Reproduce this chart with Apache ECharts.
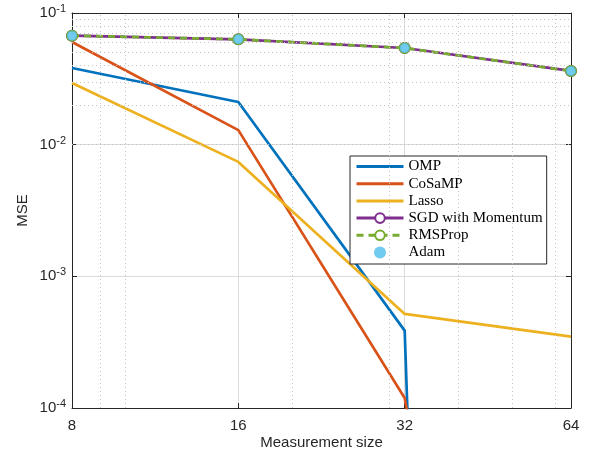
<!DOCTYPE html>
<html>
<head>
<meta charset="utf-8">
<script src="https://cdn.jsdelivr.net/npm/echarts@6/dist/echarts.min.js"></script>
<style>
  html, body { margin: 0; padding: 0; background: #fff; }
  #chart { width: 591px; height: 460px; }
</style>
</head>
<body>
<div id="chart"></div>
<script>
// measurement sizes (x, log base 2)
const sizes = [8, 16, 32, 64];

// MSE per method
const omp = [0.0382, 0.0211, 3.87e-4, 1e-40];
const cosamp = [0.0602, 0.0129, 1.19e-4, 1e-11];
const lasso = [0.0294, 0.0074, 5.18e-4, 3.48e-4];
const sgd = [0.0673, 0.0631, 0.0542, 0.0363];
const rmsprop = [0.0673, 0.0631, 0.0542, 0.0363];
const adam = [0.0673, 0.0631, 0.0542, 0.0363];

// minor grid positions (matlab style 2..9 x 10^n)
const xMinor = [9, 10, 20, 30, 40, 50, 60];
const yMinor = [];
[1e-4, 1e-3, 1e-2].forEach(d => {
  for (let k = 2; k <= 9; k++) yMinor.push(k * d);
});

const axisCol = '#262626';
const pairs = arr => sizes.map((x, i) => [x, arr[i]]);

let chart = echarts.init(document.getElementById('chart'));

function lineSeries(name, arr, color, extra) {
  return Object.assign({
    name: name,
    type: 'line',
    data: pairs(arr),
    symbol: 'none',
    clip: true,
    lineStyle: { color: color, width: 2.7 },
    itemStyle: { color: color },
    z: 3
  }, extra || {});
}

// plain line icon in legend (hide the default symbol)
const noMark = { color: 'rgba(0,0,0,0)', borderWidth: 0, opacity: 0 };

let option = {
  animation: false,
  grid: { left: 72, right: 20, top: 13, bottom: 52 },
  legend: {
    orient: 'vertical',
    left: 350,
    top: 156,
    data: [
      { name: 'OMP', itemStyle: noMark },
      { name: 'CoSaMP', itemStyle: noMark },
      { name: 'Lasso', itemStyle: noMark },
      'SGD with Momentum',
      'RMSProp',
      'Adam'
    ],
    itemWidth: 47,
    itemHeight: 12,
    itemGap: 2.2,
    padding: [3, 4, 4, 5],
    lineStyle: { width: 3 },
    backgroundColor: '#fff',
    borderColor: axisCol,
    borderWidth: 1,
    textStyle: { fontFamily: 'Liberation Serif', fontSize: 15, lineHeight: 15, color: '#000' }
  },
  xAxis: [
    {
      type: 'log',
      logBase: 2,
      min: 8,
      max: 64,
      name: 'Measurement size',
      nameLocation: 'middle',
      nameGap: 27,
      nameMoveOverlap: false,
      nameTextStyle: { fontFamily: 'Liberation Sans', fontSize: 15, color: axisCol },
      axisLine: { show: true, lineStyle: { color: axisCol, width: 1 } },
      axisTick: { inside: true, length: 5, lineStyle: { color: axisCol } },
      axisLabel: { fontFamily: 'Liberation Sans', fontSize: 15, color: axisCol, margin: 10 },
      splitLine: { show: true, lineStyle: { color: '#dcdcdc', width: 1 } }
    },
    {
      type: 'log',
      logBase: 2,
      min: 8,
      max: 64,
      position: 'top',
      axisLine: { show: true, lineStyle: { color: axisCol, width: 1 } },
      axisTick: { inside: true, length: 5, lineStyle: { color: axisCol } },
      axisLabel: { show: false },
      splitLine: { show: false }
    }
  ],
  yAxis: [
    {
      type: 'log',
      min: 1e-4,
      max: 1e-1,
      name: 'MSE',
      nameLocation: 'middle',
      nameGap: 42,
      nameMoveOverlap: false,
      nameTextStyle: { fontFamily: 'Liberation Sans', fontSize: 15, color: axisCol },
      axisLine: { show: true, lineStyle: { color: axisCol, width: 1 } },
      axisTick: { inside: true, length: 5, lineStyle: { color: axisCol } },
      axisLabel: {
        margin: 6,
        formatter: v => '{b|10}{s|' + Math.round(Math.log10(v)) + '}',
        rich: {
          b: { fontFamily: 'Liberation Sans', fontSize: 15, color: axisCol },
          s: { fontFamily: 'Liberation Sans', fontSize: 11, color: axisCol, verticalAlign: 'top', padding: [0, 0, 8, 0] }
        }
      },
      splitLine: { show: true, lineStyle: { color: '#dcdcdc', width: 1 } }
    },
    {
      type: 'log',
      min: 1e-4,
      max: 1e-1,
      position: 'right',
      axisLine: { show: true, lineStyle: { color: axisCol, width: 1 } },
      axisTick: { inside: true, length: 5, lineStyle: { color: axisCol } },
      axisLabel: { show: false },
      splitLine: { show: false }
    }
  ],
  series: [
    {
      name: 'minor',
      type: 'line',
      data: [],
      z: 1,
      markLine: {
        silent: true,
        symbol: 'none',
        label: { show: false },
        animation: false,
        lineStyle: { color: '#c4c4c4', type: [1, 3], width: 1 },
        data: xMinor.map(v => ({ xAxis: v })).concat(yMinor.map(v => ({ yAxis: v })))
      }
    },
    lineSeries('OMP', omp, '#0072BD'),
    lineSeries('CoSaMP', cosamp, '#D95319'),
    lineSeries('Lasso', lasso, '#EDB120'),
    lineSeries('SGD with Momentum', sgd, '#7E2F8E', {
      symbol: 'emptyCircle', symbolSize: 10, showSymbol: true,
      itemStyle: { color: '#7E2F8E', borderWidth: 2 }
    }),
    lineSeries('RMSProp', rmsprop, '#77AC30', {
      symbol: 'emptyCircle', symbolSize: 10, showSymbol: true,
      lineStyle: { color: '#77AC30', width: 2.7, type: [7, 5] },
      itemStyle: { color: '#77AC30', borderWidth: 2 },
      z: 4
    }),
    {
      name: 'Adam',
      type: 'scatter',
      data: pairs(adam),
      symbol: 'circle',
      symbolSize: 10,
      itemStyle: { color: '#4DBEEE' },
      z: 5
    }
  ]
};

chart.setOption(option);
</script>
</body>
</html>
